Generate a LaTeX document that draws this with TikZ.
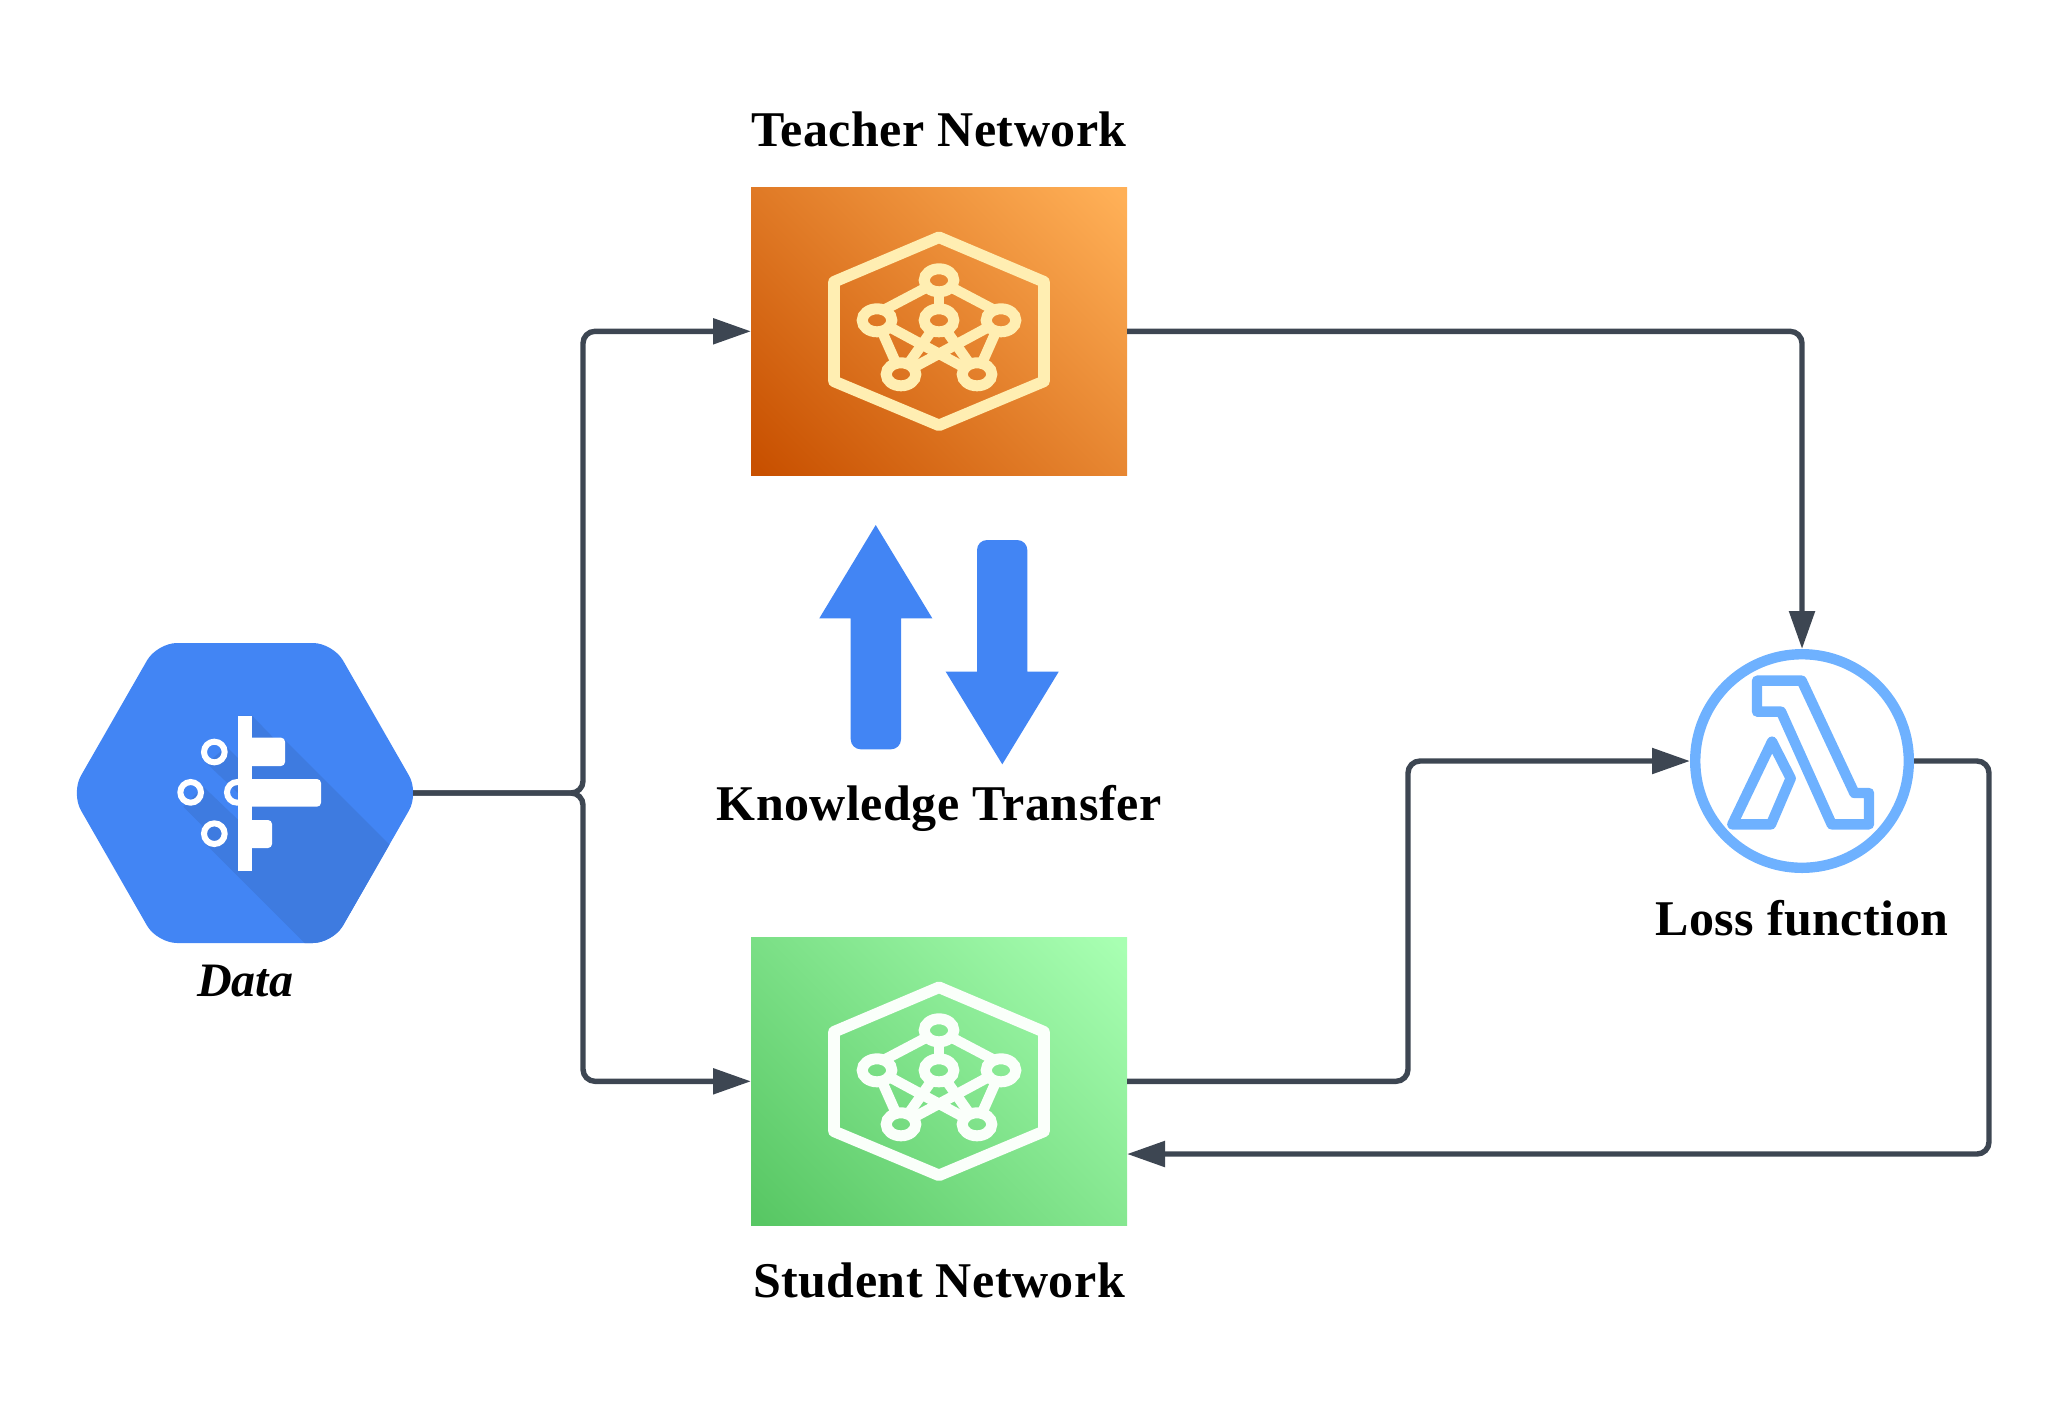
\documentclass[tikz,border=0pt]{standalone}
\usepackage{fontspec}
\setmainfont{Liberation Serif}
\newfontfamily\labelfont[LetterSpace=1.0]{Liberation Serif}
\usetikzlibrary{arrows.meta, calc, positioning, shapes.geometric}
\definecolor{gblue}{HTML}{4285F4}
\definecolor{gshade}{HTML}{3E7BE0}
\definecolor{linkgrey}{HTML}{3D4652}
\definecolor{lossblue}{HTML}{6EB1FF}
\definecolor{teachdark}{HTML}{C85000}
\definecolor{teachlight}{HTML}{FFB057}
\definecolor{studdark}{HTML}{58C764}
\definecolor{studlight}{HTML}{A8FFB2}
\definecolor{teachicon}{HTML}{FFEEB2}
\definecolor{studicon}{HTML}{FAFFFA}
\pgfdeclareverticalshading{teachgrad}{100bp}{color(0bp)=(teachdark); color(16bp)=(teachdark); color(84bp)=(teachlight); color(100bp)=(teachlight)}
\pgfdeclareverticalshading{studgrad}{100bp}{color(0bp)=(studdark); color(16bp)=(studdark); color(84bp)=(studlight); color(100bp)=(studlight)}
\tikzset{
    netbox/.style = {minimum width=188pt, minimum height=144.3pt, inner sep=0pt, outer sep=0pt},
    netnode/.style = {ellipse, draw, inner sep=0pt, outer sep=0pt, minimum width=14.8pt, minimum height=11.5pt},
    link/.style = {draw=linkgrey, line width=2.7pt, rounded corners=6pt, -{Triangle[length=19pt, width=12.5pt]}},
    label/.style = {font=\labelfont\fontsize{25}{28}\selectfont\bfseries, text=black, inner sep=0pt},
    bigarrow/.style = {fill=gblue, draw=none},
    lossline/.style = {draw=lossblue, line width=5.2pt, line join=round}
}
\begin{document}
\begin{tikzpicture}[x=0.5pt, y=-0.5pt]
    \useasboundingbox (0,0) rectangle (2064,1414);
    % boxes
    \node[netbox, shade, shading=teachgrad, shading angle=-45] (teacher) at (939,331.3) {};
    \node[netbox, shade, shading=studgrad, shading angle=-45] (student) at (939,1081.3) {};
    \foreach \pre/\cy/\ic in {T/331.3/teachicon, S/1081.3/studicon}{
        \begin{scope}[shift={(939,\cy)}, every node/.style = {netnode, line width=5.5pt}, draw=\ic, line width=5.2pt]
            \draw[line width=5.8pt, line join=round] (0,-94) -- (105,-49.5) -- (105,50) -- (0,94) -- (-105,50) -- (-105,-49.5) -- cycle;
            \node (\pre1) at (0,-51) {};
            \node (\pre2) at (-62,-11) {};
            \node (\pre3) at (62,-11) {};
            \node (\pre4) at (0,-11) {};
            \node (\pre5) at (-38,43) {};
            \node (\pre6) at (38,43) {};
            \foreach \a/\b in {1.210/2.57, 1.330/3.123, 1/4, 2/5, 3/6, 2/6, 3/5, 4/5, 4/6}{
                \draw (\pre\a) -- (\pre\b);
            }
        \end{scope}
    }
    % data hexagon
    \node[inner sep=0pt, outer sep=0pt, minimum width=168pt, minimum height=150pt] (data) at (245,793) {};
    \fill[gblue, rounded corners=10pt] (157,643) -- (333,643) -- (419,793) -- (333,943) -- (157,943) -- (71,793) -- cycle;
    \begin{scope}[shift={(60,630)}, x=0.16667pt, y=-0.16667pt]
        \begin{scope}
            \clip[x=0.5pt, y=-0.5pt, shift={(-60,-630)}, rounded corners=10pt] (157,643) -- (333,643) -- (419,793) -- (333,943) -- (157,943) -- (71,793) -- cycle;
            \fill[gshade] (576,257) -- (640,323) -- (675,330) -- (985,640) -- (1200,855) -- (1200,1205) -- (1000,1205) -- (435,640) -- (425,585) -- (370,530) -- (430,470) -- (535,570) -- (535,490) -- (440,400) -- (500,350) -- (535,385) -- (535,257) -- cycle;
        \end{scope}
        \foreach \cx/\cy in {463/366, 392/487, 532/487, 463/611}{
            \draw[white, line width=3pt] (\cx,\cy) circle[radius=31];
        }
        \fill[white] (535,257) rectangle (576,722);
        \fill[white, rounded corners=2pt] (560,323) -- (675,323) -- (675,408) -- (560,408) -- cycle;
        \fill[white, rounded corners=2pt] (560,447) -- (783,447) -- (783,530) -- (560,530) -- cycle;
        \fill[white, rounded corners=2pt] (560,570) -- (636,570) -- (636,654) -- (560,654) -- cycle;
    \end{scope}
    % loss
    \node[circle, draw=lossblue, line width=5.2pt, minimum size=106.8pt, inner sep=0pt] (loss) at (1802,761) {};
    \begin{scope}[shift={(1670,640)}, x=0.16667pt, y=-0.16667pt]
        \draw[lossline] (261,122) -- (395,122) -- (553,459) -- (597,459) -- (597,553) -- (485,553) -- (333,215) -- (261,215) -- cycle;
        \draw[lossline] (306,305) -- (362,415) -- (303,553) -- (187,553) -- cycle;
    \end{scope}
    % transfer arrows
    \fill[bigarrow] (850.7,618.3) -- (819.3,618.3) -- (875.7,525) -- (932.3,618.3) -- (901,618.3) [rounded corners=5pt] -- (901,749.3) -- (850.7,749.3) [sharp corners] -- cycle;
    \fill[bigarrow] (1027.3,671.7) -- (1058.7,671.7) -- (1002.3,764.3) -- (945.7,671.7) -- (977,671.7) [rounded corners=5pt] -- (977,540) -- (1027.3,540) [sharp corners] -- cycle;
    % labels
    \node[label] (teacherlabel) at (939,129) {Teacher Network};
    \node[label] (studentlabel) at (939,1280) {Student Network};
    \node[label] (transferlabel) at (939,808) {Knowledge Transfer};
    \node[label] (losslabel) at (1802,918) {Loss function};
    \node[label, font=\fontsize{24}{28}\selectfont\bfseries\itshape] (datalabel) at (245,981) {Data};
    % links
    \draw[link] (data.east) -| ($(teacher.west)+(-168,0)$) -- (teacher.west);
    \draw[link] (data.east) -| ($(student.west)+(-168,0)$) -- (student.west);
    \draw[link] (teacher.east) -| (loss.north);
    \draw[link] (student.east) -| ($(loss.west)+(-282,0)$) -- (loss.west);
    \draw[link] (loss.east) -| ($(student.east)+(862,72.7)$) -- ($(student.east)+(0,72.7)$);
\end{tikzpicture}
\end{document}
